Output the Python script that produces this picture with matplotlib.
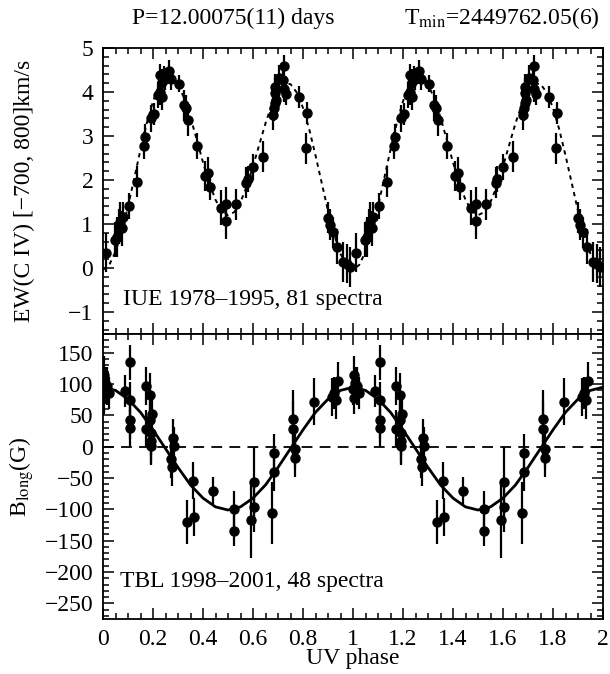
import numpy as np
import matplotlib
matplotlib.use("Agg")
import matplotlib.pyplot as plt
from matplotlib.ticker import MultipleLocator

plt.rcParams['font.family'] = ['Liberation Serif', 'DejaVu Serif']
plt.rcParams['mathtext.fontset'] = 'stix'
plt.rcParams['font.size'] = 17

# IUE C IV equivalent widths (phase 0..1, repeated once)
uv_phase = [0.013, 0.049, 0.056, 0.062, 0.068, 0.074, 0.078, 0.102, 0.136, 0.165,
            0.169, 0.192, 0.202, 0.218, 0.229, 0.236, 0.226, 0.236, 0.242, 0.249,
            0.265, 0.273, 0.305, 0.325, 0.333, 0.340, 0.376, 0.409, 0.420, 0.429,
            0.472, 0.490, 0.493, 0.530, 0.572, 0.578, 0.600, 0.638, 0.680, 0.682,
            0.686, 0.686, 0.689, 0.693, 0.702, 0.722, 0.720, 0.725, 0.732, 0.784,
            0.816, 0.812, 0.900, 0.909, 0.918, 0.936, 0.958, 0.976, 0.986]
ew = [0.35, 0.64, 0.70, 0.95, 1.05, 0.90, 1.15, 1.41, 1.96, 2.78,
      2.98, 3.40, 3.50, 3.93, 4.01, 3.89, 4.39, 4.23, 4.35, 4.29,
      4.48, 4.29, 4.19, 3.70, 3.63, 3.36, 2.77, 2.09, 2.17, 1.84,
      1.37, 1.45, 1.07, 1.45, 1.94, 2.02, 2.30, 2.53, 3.48, 3.63,
      3.74, 3.97, 4.12, 3.82, 4.31, 4.59, 4.27, 4.07, 3.95, 3.88,
      3.53, 2.72, 1.14, 0.98, 0.81, 0.48, 0.14, 0.10, 0.02]
ew_err = [0.45, 0.40, 0.45, 0.40, 0.45, 0.40, 0.35, 0.30, 0.35, 0.30,
          0.30, 0.30, 0.25, 0.30, 0.30, 0.30, 0.25, 0.30, 0.25, 0.25,
          0.25, 0.25, 0.20, 0.35, 0.30, 0.35, 0.30, 0.35, 0.35, 0.30,
          0.40, 0.40, 0.40, 0.35, 0.35, 0.30, 0.30, 0.35, 0.35, 0.30,
          0.30, 0.35, 0.30, 0.30, 0.30, 0.25, 0.30, 0.30, 0.25, 0.25,
          0.25, 0.35, 0.35, 0.35, 0.35, 0.40, 0.45, 0.45, 0.45]

# fitted EW curve, sampled every 0.025 in phase
ew_model = [-0.04, 0.07, 0.37, 0.82, 1.40, 2.04, 2.69, 3.29, 3.79, 4.15,
            4.34, 4.35, 4.18, 3.85, 3.42, 2.92, 2.40, 1.93, 1.55, 1.30,
            1.20, 1.27, 1.50, 1.85, 2.31, 2.80, 3.29, 3.71, 4.02, 4.19,
            4.18, 3.99, 3.64, 3.15, 2.56, 1.93, 1.30, 0.75, 0.32, 0.05, -0.04]

# TBL longitudinal field
b_phase = [0.000, 0.005, 0.009, 0.016, 0.005, 0.022, 0.087, 0.109, 0.109, 0.109,
           0.107, 0.172, 0.189, 0.196, 0.189, 0.172, 0.192, 0.192, 0.192, 0.280,
           0.283, 0.272, 0.276, 0.336, 0.360, 0.365, 0.440, 0.523, 0.525, 0.593,
           0.605, 0.605, 0.676, 0.685, 0.685, 0.758, 0.760, 0.766, 0.769, 0.842,
           0.916, 0.924, 0.932, 0.938]
b_long = [92, 115, 102, 97, 78, 86, 89, 135, 74, 42,
          30, 97, 82, 53, 42, 29, 22, 9, 1, 14,
          1, -20, -32, -120, -54, -112, -70, -134, -100, -117,
          -56, -96, -106, -10, -41, 28, 45, -4, -18, 72,
          79, 86, 74, 105]
b_err = [25, 30, 25, 30, 25, 25, 25, 28, 30, 30,
         30, 30, 35, 35, 30, 30, 35, 35, 30, 30,
         30, 30, 30, 35, 30, 30, 22, 25, 30, 60,
         55, 40, 50, 30, 30, 45, 45, 30, 30, 38,
         30, 25, 30, 30]

# fitted sine, sampled every 0.05 in phase
b_model = [95, 90, 76, 55, 27, -3, -33, -61, -82, -96, -101,
           -96, -82, -61, -33, -3, 27, 55, 76, 90, 95]


def two_cycles(phase, vals):
    phase = np.asarray(phase)
    return np.concatenate([phase, phase + 1]), np.concatenate([vals, vals])


fig = plt.figure(figsize=(6.10, 6.74), dpi=100)
left, width = 103 / 610, 500 / 610
ax1 = fig.add_axes([left, 1 - 334 / 674, width, 286 / 674])
ax2 = fig.add_axes([left, 1 - 619 / 674, width, 285 / 674], sharex=ax1)

ebkw = dict(fmt='o', color='black', ms=6.5, elinewidth=1.6, capsize=0)

# top panel
x, y = two_cycles(uv_phase, ew)
_, e = two_cycles(uv_phase, ew_err)
ax1.errorbar(x, y, yerr=e, **ebkw)
g = np.linspace(0, 1, len(ew_model))
xm = np.concatenate([g, g[1:] + 1])
ax1.plot(xm, ew_model + ew_model[1:], color='black', lw=1.4, ls=(0, (2.2, 2.2)))
ax1.set_ylim(-1.5, 5)
ax1.yaxis.set_major_locator(MultipleLocator(1))
ax1.yaxis.set_minor_locator(MultipleLocator(0.2))
ax1.set_ylabel('EW(C IV) [\u2212700, 800]km/s')
ax1.yaxis.set_label_coords(-0.135, 0.5)
ax1.text(0.04, 0.12, 'IUE 1978\u20131995, 81 spectra', transform=ax1.transAxes,
         va='center', ha='left')
plt.setp(ax1.get_xticklabels(), visible=False)

# bottom panel
x, y = two_cycles(b_phase, b_long)
_, e = two_cycles(b_phase, b_err)
ax2.errorbar(x, y, yerr=e, **ebkw)
g = np.linspace(0, 1, len(b_model))
xm = np.concatenate([g, g[1:] + 1])
ax2.plot(xm, b_model + b_model[1:], color='black', lw=2)
ax2.axhline(0, color='black', lw=1.3, ls=(0, (6, 4)))
ax2.set_ylim(-275, 180)
ax2.yaxis.set_major_locator(MultipleLocator(50))
ax2.yaxis.set_minor_locator(MultipleLocator(10))
ax2.set_ylabel(r'B$_{\mathrm{long}}$(G)')
ax2.yaxis.set_label_coords(-0.135, 0.5)
ax2.text(0.035, 0.13, 'TBL 1998\u20132001, 48 spectra', transform=ax2.transAxes,
         va='center', ha='left')
ax2.set_xlim(0, 2)
ax2.xaxis.set_major_locator(MultipleLocator(0.2))
ax2.xaxis.set_minor_locator(MultipleLocator(0.05))
ax2.xaxis.set_major_formatter(lambda v, p: '%g' % round(v, 2))
ax2.set_xlabel('UV phase', labelpad=-1)

for ax in (ax1, ax2):
    for s in ax.spines.values():
        s.set_linewidth(1.3)
    ax.tick_params(which='both', direction='in', top=True, right=True, width=1.1)
    ax.tick_params(which='major', length=8, pad=7)
    ax.tick_params(which='minor', length=4)

fig.text(132 / 610, 1 - 18 / 674, 'P=12.00075(11) days', ha='left', va='center')
fig.text(600 / 610, 1 - 18 / 674, r'T$_{\mathrm{min}}$=2449762.05(6)', ha='right', va='center')

fig.savefig('out.png', dpi=100)
